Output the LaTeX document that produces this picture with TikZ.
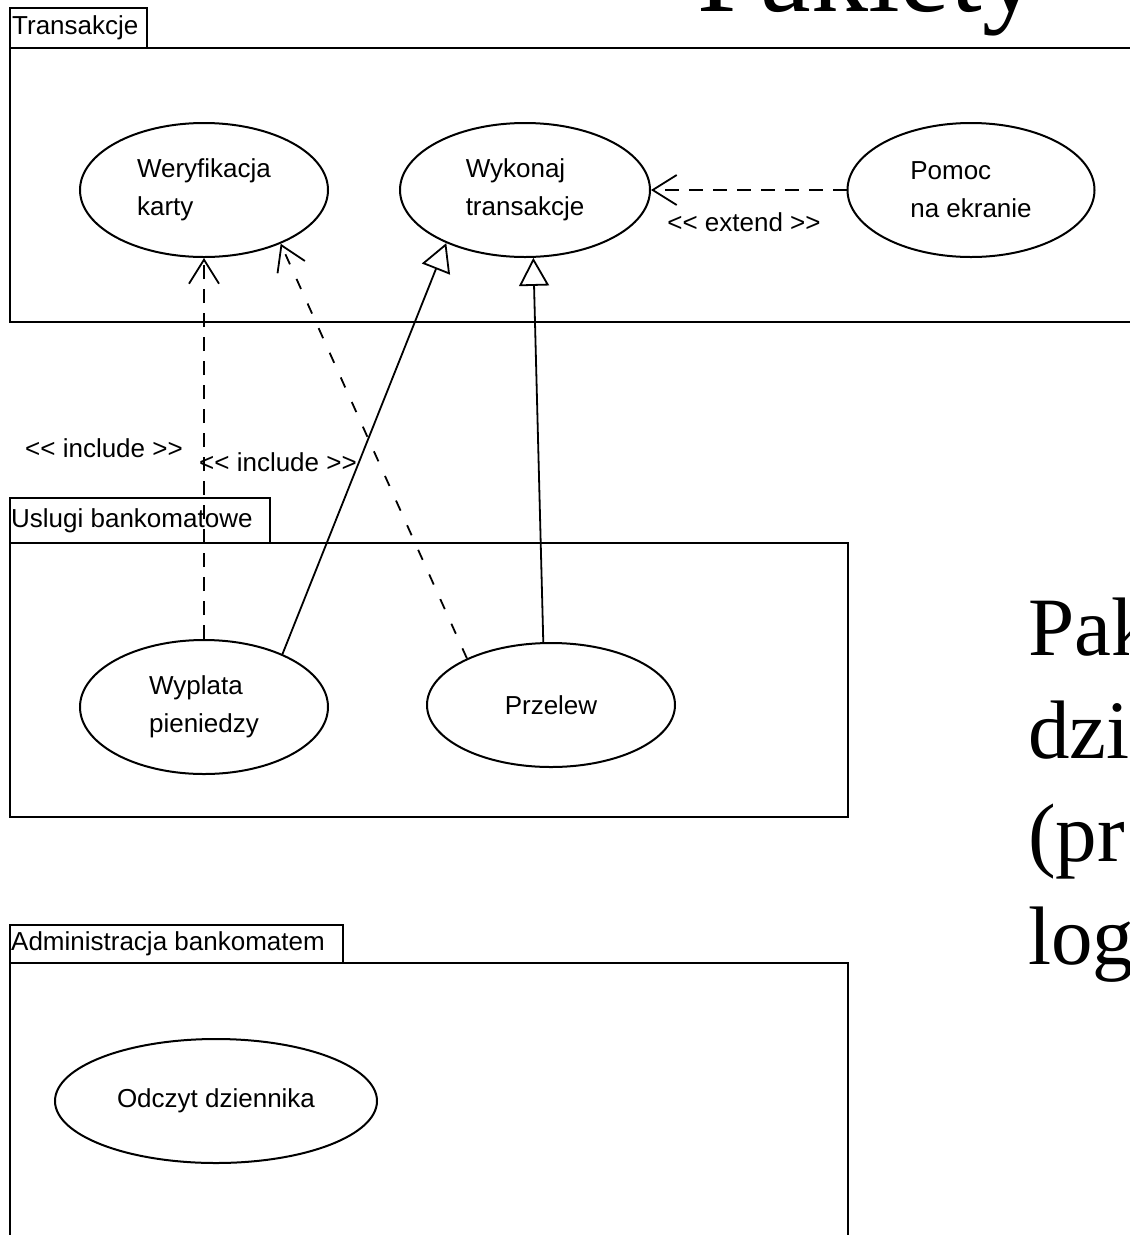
\documentclass[tikz,border=0pt]{standalone}
\usepackage{fontspec}
\usetikzlibrary{shapes.geometric,arrows.meta}
\newfontfamily\umlfont{Liberation Sans}
\newfontfamily\slidefont{Liberation Serif}
% stereotype brackets, kept as two separate glyphs
\newcommand\stOpen{<\kern0pt<}
\newcommand\stClose{>\kern0pt>}
\begin{document}
\begin{tikzpicture}[x=1pt,y=-1pt,
  pkgline/.style={line width=2.2pt},
  umltext/.style={font=\umlfont\fontsize{26}{38}\selectfont, inner sep=0pt},
  usecase/.style={draw, ellipse, line width=2pt, inner sep=0pt, align=left,
    font=\umlfont\fontsize{26}{38}\selectfont},
  dep/.style={line width=1.8pt, dash pattern=on 14pt off 10pt,
    -{Straight Barb[length=24pt,width=30pt]}},
  sparsedep/.style={dep, dash pattern=on 11pt off 16pt},
  gen/.style={line width=1.8pt, -{Triangle[fill=white,length=28pt,width=30pt]}},
  slidetext/.style={font=\slidefont\fontsize{83}{103}\selectfont, inner sep=0pt, anchor=base west}
]
\useasboundingbox (0,0) rectangle (1130,1235);

% slide title
\node[font=\slidefont\fontsize{114}{126}\selectfont, inner sep=0pt, anchor=base west] (title) at (697,11) {Pakiety};

% package: Transakcje
\draw[pkgline] (10,8) rectangle (147,48);
\draw[pkgline] (1140,48) -- (10,48) -- (10,322) -- (1140,322);
\node[umltext, anchor=west] (pTrans) at (12,28) {Transakcje};

% package: Uslugi bankomatowe
\draw[pkgline] (10,498) rectangle (270,543);
\draw[pkgline] (10,543) rectangle (848,817);
\node[umltext, anchor=west] (pUslugi) at (11,521) {Uslugi bankomatowe};

% package: Administracja bankomatem
\draw[pkgline] (10,925) rectangle (343,963);
\draw[pkgline] (10,1245) -- (10,963) -- (848,963) -- (848,1245);
\node[umltext, anchor=west] (pAdmin) at (11,944) {Administracja bankomatem};

% use cases
\node[usecase, minimum width=248pt, minimum height=134pt] (weryf) at (204,190) {Weryfikacja\\karty};
\node[usecase, minimum width=250pt, minimum height=134pt] (wykonaj) at (525,190) {Wykonaj\\transakcje};
\node[usecase, minimum width=247pt, minimum height=134pt] (pomoc) at (971,190) {Pomoc\\na ekranie};
\node[usecase, minimum width=248pt, minimum height=134pt] (wyplata) at (204,707) {Wyplata\\pieniedzy};
\node[usecase, minimum width=248pt, minimum height=124pt] (przelew) at (551,705) {Przelew};
\node[usecase, minimum width=322pt, minimum height=124pt] (odczyt) at (216,1101) {Odczyt dziennika};

% relationships
\draw[dep] (pomoc.west) -- (wykonaj.east);
\node[umltext] (lExtend) at (744,222) {\stOpen{} extend \stClose};

\draw[dep] (wyplata.north) -- (weryf.south);
\node[umltext] (lInc1) at (104,448) {\stOpen{} include \stClose};

\draw[sparsedep] (przelew.151) -- (weryf.-35);
\node[umltext] (lInc2) at (278,462) {\stOpen{} include \stClose};

\draw[gen] (wyplata.34) -- (wykonaj.214);
\draw[gen] (przelew.97) -- (wykonaj.-83);

% slide body text, running past the right edge
\node[slidetext] (s1) at (1028,655) {Pak};
\node[slidetext] (s2) at (1028,758) {dzi};
\node[slidetext] (s3) at (1028,861) {(pr};
\node[slidetext] (s4) at (1028,964) {log};
\end{tikzpicture}
\end{document}
